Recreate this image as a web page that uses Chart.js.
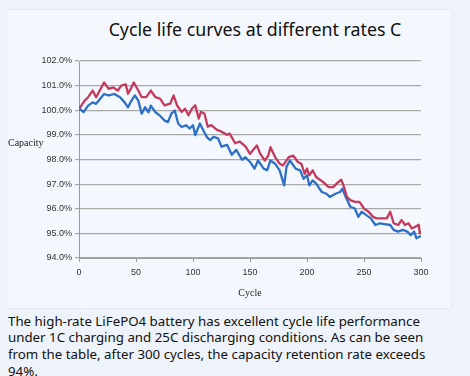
<!DOCTYPE html>
<html>
<head>
<meta charset="utf-8">
<script src="https://cdn.jsdelivr.net/npm/chart.js@4.4.1/dist/chart.umd.min.js"></script>
<style>
  html, body { margin: 0; padding: 0; }
  body { width: 470px; height: 376px; background: #eef3fa; position: relative; overflow: hidden; font-family: "Noto Sans", sans-serif; }
  #card { position: absolute; left: 6px; top: 9px; width: 444px; height: 298px; background: #f4f8fe; border: 1px solid #e6ebf3; }
  #title { position: absolute; left: 0; width: 510px; top: 17px; text-align: center; font-size: 17.8px; color: #111; }
  #ylab { position: absolute; left: 8px; top: 137px; font-family: "Liberation Serif", serif; font-size: 10px; color: #222; }
  #wrap { position: absolute; left: 0; top: 0; width: 470px; height: 310px; }
  #desc { position: absolute; left: 8px; top: 312.5px; font-size: 13.3px; line-height: 16.7px; color: #111; white-space: nowrap; }
</style>
</head>
<body>
<div id="card"></div>
<div id="title">Cycle life curves at different rates C</div>
<div id="wrap"><canvas id="chart" width="470" height="310"></canvas></div>
<div id="ylab">Capacity</div>
<div id="desc">The high-rate LiFePO4 battery has excellent cycle life performance<br>under 1C charging and 25C discharging conditions. As can be seen<br>from the table, after 300 cycles, the capacity retention rate exceeds<br>94%.</div>
<script>
// Values (cycle number, capacity %)
const redCycles = [0, 1, 5, 8, 12, 15, 22, 26, 30, 34, 37, 41, 43, 46, 48, 52, 55, 59, 63, 67, 71, 75, 80, 83, 86, 90, 93, 96, 99, 102, 105, 107, 110, 113, 116, 121, 125, 130, 132, 137, 141, 146, 150, 156, 159, 163, 166, 168, 172, 176, 179, 184, 188, 192, 195, 198, 200, 202, 205, 208, 210, 214, 219, 223, 226, 230, 232, 235, 238, 242, 246, 250, 254, 258, 261, 265, 270, 273, 276, 280, 283, 286, 289, 292, 295, 298, 299, 300];
const redValues = [100.1, 100.12, 100.39, 100.53, 100.8, 100.53, 101.13, 100.87, 100.93, 100.8, 101.0, 101.05, 100.67, 100.93, 101.13, 100.8, 100.53, 100.53, 100.8, 100.53, 100.47, 100.2, 100.27, 100.6, 100.2, 99.93, 100.06, 99.8, 100.06, 100.2, 99.66, 99.93, 99.87, 99.33, 99.4, 99.2, 99.13, 99.0, 99.06, 98.66, 98.73, 98.53, 98.23, 98.57, 98.23, 97.96, 98.16, 98.5, 98.1, 97.83, 97.76, 98.1, 98.16, 97.9, 97.83, 97.42, 97.63, 97.36, 97.56, 97.29, 97.22, 97.09, 96.88, 96.88, 97.02, 97.18, 96.95, 96.48, 96.35, 96.28, 96.28, 96.01, 95.88, 95.67, 95.61, 95.61, 95.61, 95.88, 95.41, 95.34, 95.54, 95.34, 95.41, 95.2, 95.27, 95.35, 95.0, 95.1];

const blueCycles = [0, 1, 4, 8, 12, 15, 22, 26, 31, 36, 40, 43, 46, 49, 52, 55, 58, 61, 63, 67, 71, 75, 78, 81, 84, 87, 90, 94, 97, 100, 102, 106, 109, 112, 115, 118, 122, 125, 130, 134, 138, 143, 146, 150, 154, 157, 162, 165, 168, 172, 176, 180, 182, 185, 190, 194, 197, 200, 202, 205, 208, 213, 217, 220, 225, 229, 231, 234, 238, 242, 245, 248, 252, 256, 260, 264, 268, 273, 276, 280, 284, 288, 291, 294, 296, 300];
const blueValues = [100.0, 100.05, 99.92, 100.19, 100.32, 100.26, 100.66, 100.6, 100.66, 100.53, 100.32, 100.12, 100.39, 100.6, 100.39, 99.86, 100.12, 99.92, 100.19, 99.92, 99.78, 99.58, 99.52, 99.86, 99.99, 99.46, 99.32, 99.39, 99.26, 99.39, 98.99, 99.46, 99.19, 98.92, 98.79, 98.92, 98.86, 98.52, 98.59, 98.19, 98.39, 97.99, 98.09, 97.9, 97.63, 97.96, 97.63, 97.56, 97.96, 97.83, 97.56, 96.95, 97.7, 97.96, 97.63, 97.56, 97.22, 97.36, 96.95, 97.15, 97.02, 96.68, 96.61, 96.48, 96.61, 96.68, 96.81, 96.48, 96.08, 96.01, 95.67, 95.88, 95.74, 95.61, 95.34, 95.41, 95.38, 95.34, 95.14, 95.07, 95.14, 95.07, 94.93, 95.07, 94.8, 94.89];

const xTicks = [0, 50, 100, 150, 200, 250, 300];

const toPoints = (xs, ys) => xs.map((x, i) => ({ x: x, y: ys[i] }));

const ctx = document.getElementById('chart').getContext('2d');
new Chart(ctx, {
    type: 'line',
    data: {
        datasets: [{
            label: 'Red',
            data: toPoints(redCycles, redValues),
            borderColor: '#c43a5c',
            borderWidth: 2.3,
            borderJoinStyle: 'round',
            pointRadius: 0,
            tension: 0
        }, {
            label: 'Blue',
            data: toPoints(blueCycles, blueValues),
            borderColor: '#2d70c6',
            borderWidth: 2.3,
            borderJoinStyle: 'round',
            pointRadius: 0,
            tension: 0
        }]
    },
    options: {
        responsive: false,
        animation: false,
        layout: { padding: { left: 0, right: 49, top: 61, bottom: 0 } },
        plugins: { legend: { display: false }, tooltip: { enabled: false } },
        scales: {
            x: {
                type: 'linear',
                min: 0,
                max: 300,
                afterBuildTicks: (scale) => { scale.ticks = xTicks.map(v => ({ value: v })); },
                afterFit: (scale) => { scale.height = 52; },
                grid: { drawOnChartArea: false, tickLength: 4, color: '#9a9a9a' },
                border: { color: '#9a9a9a' },
                ticks: { color: '#333', padding: 5, font: { family: 'Liberation Sans', size: 9 } },
                title: { display: true, text: 'Cycle', color: '#222', padding: { top: 0, bottom: 11 }, font: { family: 'Liberation Serif', size: 10 } }
            },
            y: {
                min: 94,
                max: 102,
                afterFit: (scale) => { scale.width = 79; },
                grid: { color: '#a8a8a8', lineWidth: 1.2, tickLength: 4 },
                border: { color: '#9a9a9a' },
                ticks: { stepSize: 1, color: '#333', padding: 3, font: { family: 'Liberation Sans', size: 9 },
                         callback: (v) => v.toFixed(1) + '%' }
            }
        }
    }
});
</script>
</body>
</html>
